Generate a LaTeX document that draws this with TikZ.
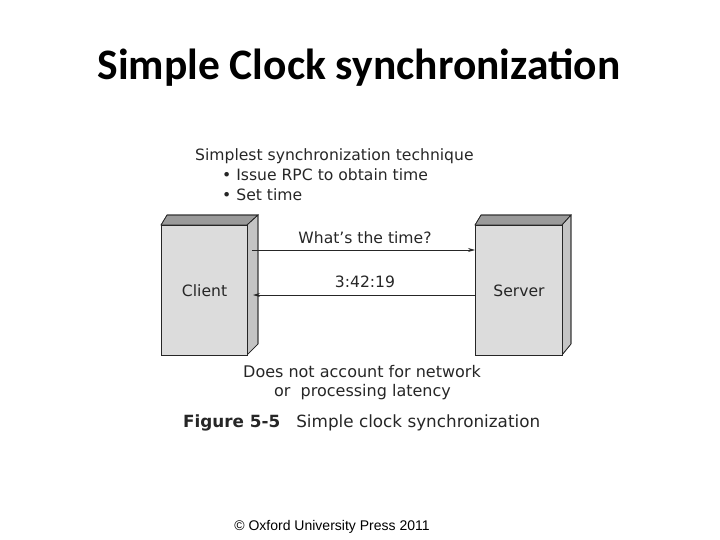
\documentclass[tikz,border=0pt]{standalone}
\usepackage{fontspec}
\setmainfont{DejaVu Sans}
\newfontfamily\titlefont{Carlito}
\newfontfamily\arialfont{Liberation Sans}
\usetikzlibrary{arrows.meta}
\definecolor{txt}{HTML}{262626}
\definecolor{front}{HTML}{DCDCDC}
\definecolor{topf}{HTML}{9A9A9A}
\definecolor{sidef}{HTML}{C4C4C4}
\tikzset{
  lbl/.style={inner sep=0pt, text=txt, font=\fontsize{15.6}{18}\selectfont},
  msg/.style={draw=txt, line width=0.8pt, -{Stealth[length=7pt,width=4pt]}},
  facefront/.style={fill=front, draw=txt, line width=1.1pt},
  facetop/.style={fill=topf, draw=txt, line width=0.6pt},
  faceside/.style={fill=sidef, draw=txt, line width=0.6pt},
}
\begin{document}
\begin{tikzpicture}[x=1pt,y=-1pt]
\useasboundingbox (0,0) rectangle (720,540);
\node[inner sep=0pt, font=\titlefont\bfseries\fontsize{43.5}{50}\selectfont] (title) at (359,68) {Simple Clock synchronization};
% header
\node[lbl, anchor=west] (h1) at (195,156) {Simplest synchronization technique};
\node[lbl, anchor=west] (h2) at (222,175) {\textbullet\ Issue RPC to obtain time};
\node[lbl, anchor=west] (h3) at (222,195) {\textbullet\ Set time};
% client box
\fill[facetop] (161,225) -- (167,215) -- (258,215) -- (247,225) -- cycle;
\fill[faceside] (247,225) -- (258,215) -- (258,344) -- (247,355) -- cycle;
\draw[facetop, fill=none] (161,225) -- (167,215) -- (258,215) -- (247,225);
\draw[faceside, fill=none] (258,215) -- (258,344) -- (247,355);
\node[facefront, minimum width=86pt, minimum height=130pt, inner sep=0pt, anchor=north west, label={[lbl]center:Client}] (client) at (161,225) {};
% server box
\fill[facetop] (475,225) -- (481,215) -- (571,215) -- (562,225) -- cycle;
\fill[faceside] (562,225) -- (571,215) -- (571,344) -- (562,355) -- cycle;
\draw[facetop, fill=none] (475,225) -- (481,215) -- (571,215) -- (562,225);
\draw[faceside, fill=none] (571,215) -- (571,344) -- (562,355);
\node[facefront, minimum width=87pt, minimum height=130pt, inner sep=0pt, anchor=north west, label={[lbl]center:Server}] (server) at (475,225) {};
% messages
\coordinate (c1) at (252,250);
\coordinate (c2) at (253,295);
\draw[msg] (c1) -- (server.west |- c1);
\draw[msg] (server.west |- c2) -- (c2);
\node[lbl] (q) at (365,238) {What{\char39}s the time?};
\node[lbl] (a) at (365,282) {3:42:19};
% notes
\node[lbl, anchor=west, font=\fontsize{16}{18}\selectfont] (n1) at (243,372) {Does not account for network};
\node[lbl, anchor=west, font=\fontsize{16}{18}\selectfont] (n2) at (274,392) {or\ \ processing latency};
\node[lbl, anchor=west, font=\fontsize{16.8}{19}\selectfont] (cap) at (183,423) {\textbf{Figure 5-5}\ \ \ Simple clock synchronization};
\node[inner sep=0pt, font=\arialfont\fontsize{14}{16}\selectfont] (copy) at (332,527) {© Oxford University Press 2011};
\end{tikzpicture}
\end{document}
